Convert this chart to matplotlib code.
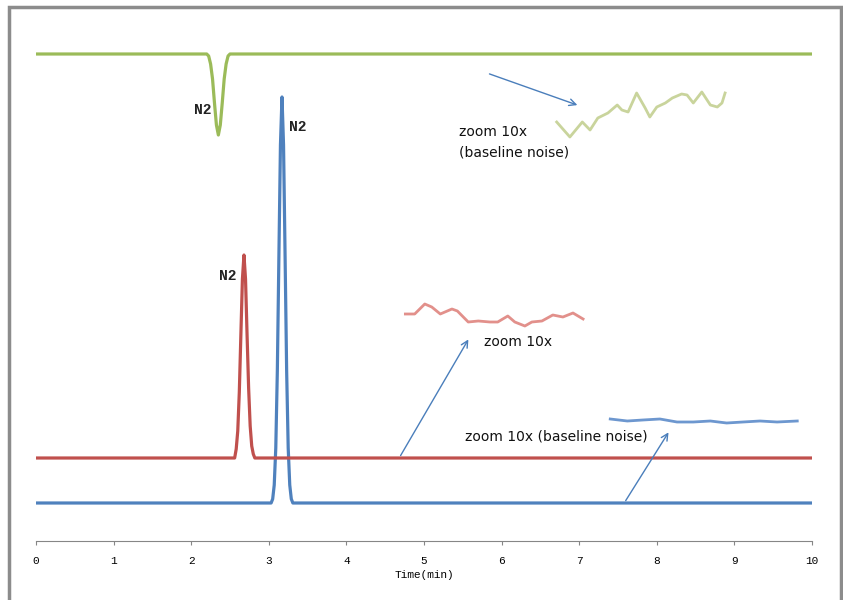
import matplotlib.pyplot as plt
from matplotlib.patches import Rectangle

# Chromatogram traces (time in min, signal in arbitrary units)
blue_t = [0, 3.03, 3.05, 3.07, 3.09, 3.11, 3.13, 3.15, 3.17, 3.19, 3.21, 3.23, 3.25, 3.27, 3.29, 3.31, 10]
blue_y = [38, 38, 42, 56, 93, 170, 284, 396, 444, 396, 284, 170, 93, 56, 42, 38, 38]

red_t = [0, 2.56, 2.58, 2.60, 2.62, 2.64, 2.66, 2.68, 2.70, 2.72, 2.74, 2.76, 2.78, 2.80, 2.82, 10]
red_y = [83, 83, 92, 110, 149, 206, 262, 286, 262, 206, 153, 115, 95, 87, 83, 83]

green_t = [0, 2.20, 2.225, 2.25, 2.275, 2.30, 2.325, 2.35, 2.375, 2.40, 2.425, 2.45, 2.475, 2.50, 10]
green_y = [487, 487, 485, 477, 462, 438, 416, 406, 416, 438, 462, 477, 485, 487, 487]

# "zoom 10x" baseline noise insets
gnoise_t = [6.71, 6.88, 7.04, 7.14, 7.24, 7.37, 7.49, 7.55, 7.63, 7.74, 7.85, 7.91,
            8.00, 8.11, 8.20, 8.32, 8.39, 8.47, 8.58, 8.69, 8.78, 8.84, 8.88]
gnoise_y = [419, 404, 419, 411, 423, 428, 436, 431, 429, 448, 433, 424,
            434, 438, 443, 447, 446, 438, 449, 436, 434, 438, 448]

rnoise_t = [4.76, 4.88, 5.01, 5.10, 5.21, 5.36, 5.43, 5.57, 5.70, 5.85,
            5.95, 6.08, 6.17, 6.30, 6.39, 6.52, 6.66, 6.79, 6.92, 7.05]
rnoise_y = [227, 227, 237, 234, 227, 232, 230, 219, 220, 219,
            219, 225, 219, 215, 219, 220, 226, 224, 228, 222]

bnoise_t = [7.40, 7.62, 7.82, 8.04, 8.26, 8.47, 8.69, 8.90, 9.11, 9.33, 9.55, 9.81]
bnoise_y = [122, 120, 121, 122, 119, 119, 120, 118, 119, 120, 119, 120]

xticks = list(range(0, 11))

fig = plt.figure(figsize=(8.43, 6.0), dpi=100)
ax = fig.add_axes([36 / 843, 1 - 541 / 600, 776 / 843, 531 / 600])

# outer gray frame
fig.patches.append(Rectangle((9 / 843, -0.1), 832 / 843, 1.1 - 7 / 600, transform=fig.transFigure,
                             fill=False, edgecolor='#8c8c8c', linewidth=2.5))

ax.plot(blue_t, blue_y, color='#4f81bd', lw=2.3, solid_capstyle='butt', solid_joinstyle='round')
ax.plot(red_t, red_y, color='#c0504d', lw=2.3, solid_capstyle='butt', solid_joinstyle='round')
ax.plot(green_t, green_y, color='#9bbb59', lw=2.3, solid_capstyle='round', solid_joinstyle='round')

ax.plot(gnoise_t, gnoise_y, color='#c9d49c', lw=2.0, solid_joinstyle='round')
ax.plot(rnoise_t, rnoise_y, color='#e2908b', lw=2.0, solid_joinstyle='round')
ax.plot(bnoise_t, bnoise_y, color='#6d97cf', lw=2.0, solid_joinstyle='round')

# arrows
arrow = dict(arrowstyle='->', color='#4a7ebb', lw=1.0, mutation_scale=12)
ax.annotate('', xy=(7.01, 435), xytext=(5.81, 468), arrowprops=arrow)
ax.annotate('', xy=(5.59, 204), xytext=(4.68, 83), arrowprops=arrow)
ax.annotate('', xy=(8.17, 111), xytext=(7.58, 38), arrowprops=arrow)

# labels
mono = dict(family='Liberation Mono', fontsize=10.5, fontweight='bold', color='#222222')
ax.text(2.26, 431, 'N2', ha='right', va='center', **mono)
ax.text(3.26, 414, 'N2', ha='left', va='center', **mono)
ax.text(2.59, 265, 'N2', ha='right', va='center', **mono)

sans = dict(family='DejaVu Sans', fontsize=10, color='#111111')
ax.text(5.45, 409, 'zoom 10x', ha='left', va='center', **sans)
ax.text(5.45, 388, '(baseline noise)', ha='left', va='center', **sans)
ax.text(5.77, 199, 'zoom 10x', ha='left', va='center', **sans)
ax.text(5.53, 104, 'zoom 10x (baseline noise)', ha='left', va='center', **sans)

ax.set_xlim(0, 10)
ax.set_ylim(0, 531)
ax.set_xticks(xticks)
ax.set_xticklabels([str(t) for t in xticks], family='Liberation Mono', fontsize=8)
ax.set_yticks([])
ax.tick_params(axis='x', direction='out', length=3, color='#868686', pad=8)
for side in ['left', 'right', 'top']:
    ax.spines[side].set_visible(False)
ax.spines['bottom'].set_color('#868686')
ax.set_xlabel('Time(min)', family='Liberation Mono', fontsize=8, labelpad=3)

plt.savefig('out.png', dpi=100)
